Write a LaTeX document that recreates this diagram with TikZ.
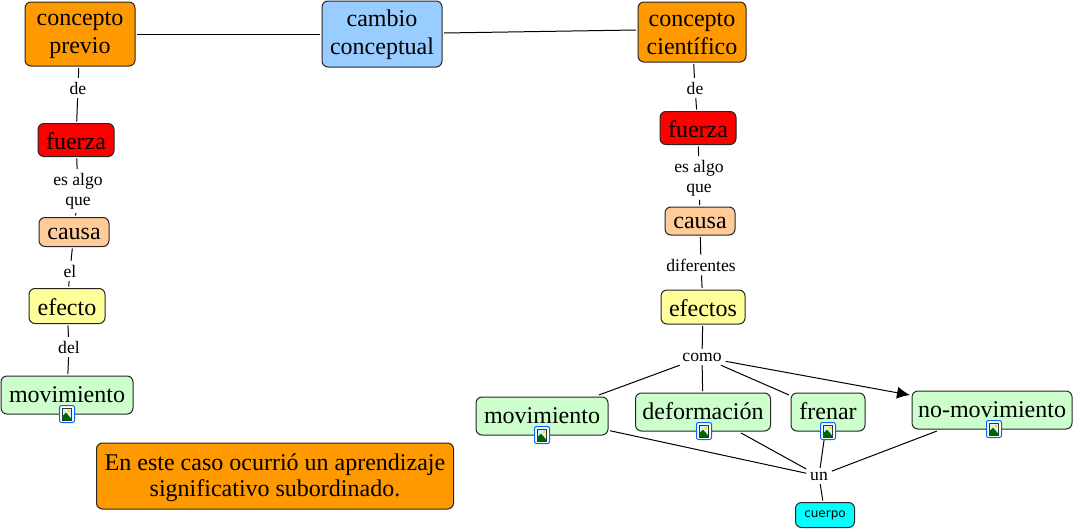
\documentclass[tikz,border=0pt]{standalone}
\usepackage{fontspec}
\usetikzlibrary{arrows.meta}
\setmainfont{Liberation Serif}
\newfontfamily\cuerpofont{DejaVu Sans}
\definecolor{cOrange}{HTML}{FF9900}
\definecolor{cBlue}{HTML}{99CCFF}
\definecolor{cRed}{HTML}{FF0000}
\definecolor{cPeach}{HTML}{FFCC99}
\definecolor{cYellow}{HTML}{FFFF99}
\definecolor{cGreen}{HTML}{CCFFCC}
\definecolor{cCyan}{HTML}{00FFFF}
\tikzset{
  x=1pt,y=-1pt,
  concept/.style={draw=black!85!white,line width=1pt,rounded corners=6pt,align=center,font=\fontsize{24}{28}\selectfont,inner sep=0pt,outer sep=2pt,text=black},
  linkword/.style={align=center,font=\fontsize{17.6}{20}\selectfont,inner sep=1pt,outer sep=3pt,text=black},
  conn/.style={line width=1pt,black},
  iconbox/.style={draw=blue!60!cyan,fill=white,line width=1pt,minimum width=15pt,minimum height=17pt,inner sep=0pt,rounded corners=2pt}
}
\newcommand{\cst}{\rule[-5pt]{0pt}{28pt}}
\newcommand{\cstm}{\rule[-5pt]{0pt}{25pt}}
\newcommand{\cstb}{\rule[-5pt]{0pt}{24pt}}
\newcommand{\mst}{\rule{0pt}{19pt}}
\newcommand{\msa}{\rule{0pt}{17pt}}
\newcommand{\boxnode}[8]{\node[concept,fill=#1,minimum width=#4pt,minimum height=#5pt,#8] (#2) at (#6,#7) {#3};}
\newcommand{\imgicon}[3]{%
  \node[iconbox] (#1) at (#2,#3) {};
  \fill[cyan!15] (#2-4.5,#3-6) rectangle (#2+4.5,#3+6);
  \draw[black!80,line width=0.7pt] (#2-4.5,#3-6) rectangle (#2+4.5,#3+6);
  \fill[yellow!80!orange] (#2+2,#3-3) circle (1.6);
  \fill[green!40!black] (#2-4.5,#3+6) -- (#2-4.5,#3+2) -- (#2-1,#3-1.5) -- (#2+4.5,#3+5) -- (#2+4.5,#3+6) -- cycle;
}
\begin{document}
\begin{tikzpicture}
\useasboundingbox (0,0) rectangle (1078,530);
% concepts: colour, name, text, w, h, cx, cy
\boxnode{cOrange}{cprevio}{\msa concepto\\previo}{110}{64}{80}{34}{}
\boxnode{cBlue}{cambio}{\mst cambio\\conceptual}{120}{66}{382}{34}{}
\boxnode{cOrange}{ccient}{\msa concepto\\científico}{108}{60}{692}{32}{}
\boxnode{cRed}{fuerzaL}{\cst fuerza}{76}{33}{76}{140}{}
\boxnode{cPeach}{causaL}{\cstm causa}{70}{29}{74}{232}{}
\boxnode{cYellow}{efectoL}{\cst efecto}{76}{35}{67}{306}{}
\boxnode{cGreen}{movL}{\cstb movimiento}{132}{38}{67}{395}{}
\boxnode{cRed}{fuerzaR}{\cst fuerza}{76}{33}{698}{128}{}
\boxnode{cPeach}{causaR}{\cstm causa}{70}{28}{700}{221}{}
\boxnode{cYellow}{efectosR}{\cst efectos}{84}{34}{703}{307}{}
\boxnode{cGreen}{movR}{\cstb movimiento}{132}{38}{542}{416}{}
\boxnode{cGreen}{defor}{\cstb deformación}{135}{38}{703}{412}{}
\boxnode{cGreen}{frenar}{\cstb frenar}{74}{38}{828}{412}{}
\boxnode{cGreen}{nomov}{\cstb no-movimiento}{160}{38}{992}{410}{}
\node[concept,fill=cCyan,minimum width=59pt,minimum height=25pt,font=\cuerpofont\fontsize{12}{14}\selectfont] (cuerpo) at (825,515) {cuerpo};
\node[concept,fill=cOrange,minimum width=357pt,minimum height=66pt,font=\fontsize{24}{26}\selectfont] (nota) at (275,476) {\rule{0pt}{21pt}En este caso ocurrió un aprendizaje\\significativo subordinado.};
% linking words
\node[linkword] (deL) at (78,88) {de};
\node[linkword] (esL) at (78,191) {es algo\\que};
\node[linkword] (elL) at (70,271) {el};
\node[linkword] (delL) at (69,347) {del};
\node[linkword] (deR) at (695,88) {de};
\node[linkword] (esR) at (699,178) {es algo\\que};
\node[linkword] (dif) at (701,265) {diferentes};
\node[linkword] (como) at (702,357) {como};
\node[linkword] (un) at (819,476) {un};
% connectors
\draw[conn] (cprevio) -- (cambio);
\draw[conn] ([yshift=1pt]cambio.east) -- ([yshift=2pt]ccient.west);
\draw[conn] (cprevio) -- (deL);
\draw[conn] (deL) -- (fuerzaL);
\draw[conn] (fuerzaL) -- (esL);
\draw[conn] (esL) -- (causaL);
\draw[conn] (causaL) -- (elL);
\draw[conn] (elL) -- (efectoL);
\draw[conn] (efectoL) -- (delL);
\draw[conn] (delL) -- (movL);
\draw[conn] (ccient) -- (deR);
\draw[conn] (deR) -- (fuerzaR);
\draw[conn] (fuerzaR) -- (esR);
\draw[conn] (esR) -- (causaR);
\draw[conn] (causaR) -- (dif);
\draw[conn] (dif) -- (efectosR);
\draw[conn] (efectosR) -- (como);
\draw[conn] (como) -- (movR);
\draw[conn] (como) -- (defor);
\draw[conn] (como) -- (frenar);
\draw[conn,-{Latex[length=13pt,width=12pt]}] (como) -- (nomov);
\draw[conn] (movR) -- (un);
\draw[conn] (defor) -- (un);
\draw[conn] (frenar) -- (un);
\draw[conn] (nomov) -- (un);
\draw[conn] (un) -- (cuerpo);
% image icons
\imgicon{iconA}{67}{414}
\imgicon{iconB}{542}{435}
\imgicon{iconC}{704}{431}
\imgicon{iconD}{828}{431}
\imgicon{iconE}{994}{429}
\end{tikzpicture}
\end{document}
